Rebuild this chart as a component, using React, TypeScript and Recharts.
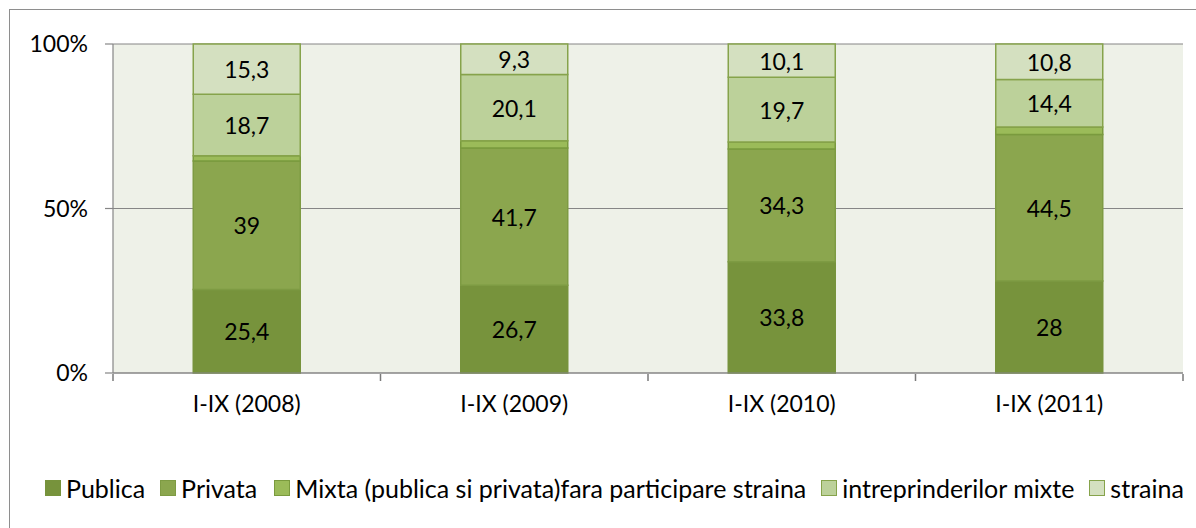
import React from "react";
import { BarChart, Bar, XAxis, YAxis, CartesianGrid, LabelList } from "recharts";

const categories = ["I-IX (2008)", "I-IX (2009)", "I-IX (2010)", "I-IX (2011)"];
const publica = [25.4, 26.7, 33.8, 28];
const privata = [39, 41.7, 34.3, 44.5];
const mixta = [1.6, 2.2, 2.1, 2.3];
const intreprinderi = [18.7, 20.1, 19.7, 14.4];
const straina = [15.3, 9.3, 10.1, 10.8];
const yTicks = [0, 0.5, 1];
const edgeTicks = [0, 1, 2, 3, 4];

const series = [
  { key: "publica", name: "Publica", values: publica, fill: "#77933C", stroke: "#77933C", label: true },
  { key: "privata", name: "Privata", values: privata, fill: "#8BA64E", stroke: "#7E9B43", label: true },
  { key: "mixta", name: "Mixta (publica si privata)fara participare straina", values: mixta, fill: "#9BBB59", stroke: "#7A9A3E", label: false },
  { key: "intreprinderi", name: "intreprinderilor mixte", values: intreprinderi, fill: "#BCD19A", stroke: "#86A34B", label: true },
  { key: "straina", name: "straina", values: straina, fill: "#D4E0C0", stroke: "#86A34B", label: true },
];

const data = categories.map((c, i) => {
  const row: Record<string, string | number> = { cat: c, pos: i };
  series.forEach((s) => {
    row[s.key] = s.values[i];
  });
  return row;
});

const FONT = "Lato, 'Open Sans', sans-serif";
const FS = 23;

const fmt = (v: number) => String(v).replace(".", ",");

export default function App() {
  return (
    <div style={{ position: "absolute", left: 0, top: 0, width: 1196, height: 528, overflow: "hidden", background: "#fff" }}>
      <div style={{ position: "absolute", left: 9, top: 9, width: 1200, height: 530, border: "1.5px solid #8E8E8E" }} />
      <BarChart
        width={1196}
        height={528}
        data={data}
        stackOffset="expand"
        barCategoryGap="30%"
        margin={{ top: 44, right: 13, left: 53, bottom: 95 }}
        style={{ position: "absolute", left: 0, top: 0 }}
      >
        <CartesianGrid vertical={false} horizontal={true} stroke="#868686" strokeWidth={1.2} fill="#EEF1E8" fillOpacity={1} />
        <XAxis
          xAxisId="cat"
          dataKey="cat"
          axisLine={{ stroke: "#868686", strokeWidth: 1.2 }}
          tickLine={false}
          tickSize={0}
          tickMargin={23}
          tick={{ fill: "#000", fontSize: FS, fontFamily: FONT }}
          height={1}
        />
        <XAxis
          xAxisId="edges"
          type="number"
          dataKey="pos"
          domain={[0, 4]}
          ticks={edgeTicks}
          height={59}
          axisLine={false}
          tickLine={{ stroke: "#7A7A7A", strokeWidth: 1.5 }}
          tickSize={7}
          tick={{ fill: "none" }}
          tickFormatter={() => ""}
        />
        <YAxis
          domain={[0, 1]}
          ticks={yTicks}
          tickFormatter={(v: number) => `${Math.round(v * 100)}%`}
          axisLine={{ stroke: "#868686", strokeWidth: 1.2 }}
          tickLine={{ stroke: "#868686", strokeWidth: 1.2 }}
          tickSize={8}
          tickMargin={17}
          tick={{ fill: "#000", fontSize: FS, fontFamily: FONT }}
          width={60}
        />
        {series.map((s) => (
          <Bar
            key={s.key}
            xAxisId="cat"
            dataKey={s.key}
            name={s.name}
            stackId="a"
            fill={s.fill}
            stroke={s.stroke}
            strokeWidth={1.5}
            isAnimationActive={false}
          >
            {s.label && (
              <LabelList
                dataKey={s.key}
                position="center"
                content={(p: any) => {
                  const x = Number(p.x) + Number(p.width) / 2;
                  const y = Number(p.y) + Number(p.height) / 2;
                  return (
                    <text x={x} y={y} textAnchor="middle" dominantBaseline="central" fontSize={FS} fontFamily={FONT} fill="#000">
                      {fmt(s.values[p.index])}
                    </text>
                  );
                }}
              />
            )}
          </Bar>
        ))}
      </BarChart>
      <div
        style={{
          position: "absolute",
          left: 45,
          top: 474,
          display: "flex",
          alignItems: "center",
          fontFamily: FONT,
          fontSize: 25,
          lineHeight: "28px",
          color: "#000",
          whiteSpace: "nowrap",
        }}
      >
        {series.map((s, i) => (
          <div key={s.key} style={{ display: "flex", alignItems: "center", marginRight: i === 1 ? 17 : 15 }}>
            <span style={{ display: "inline-block", width: 14, height: 14, background: s.fill, border: `1.5px solid ${s.stroke}`, marginRight: 5 }} />
            <span>{s.name}</span>
          </div>
        ))}
      </div>
    </div>
  );
}
